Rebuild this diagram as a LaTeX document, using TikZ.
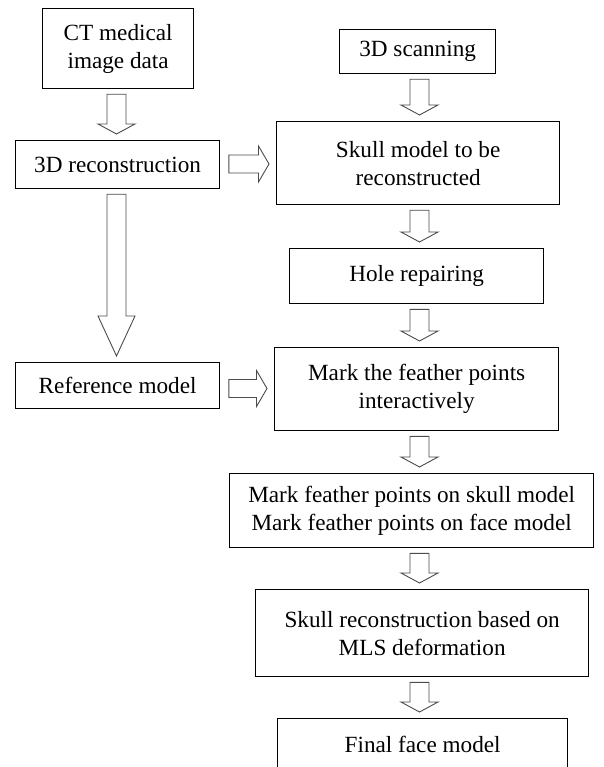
\documentclass[tikz,border=0pt]{standalone}
\usepackage{fontspec}
\setmainfont{Liberation Serif}
\usetikzlibrary{calc}
\tikzset{
  box/.style={draw=black, line width=1.3pt, inner sep=0pt, align=center, anchor=north west,
    font=\fontsize{23.2pt}{28pt}\selectfont},
  blockarrow/.style={draw=black!70, line width=0.9pt, fill=white, line join=miter},
}
% vertical block arrow: #1 x centre, #2 from node, #3 to node, #4 head length
\newcommand{\vblock}[4]{%
  \draw[blockarrow] let \p1=(#2.south), \p2=(#3.north) in
    (#1pt-9.5pt,\y1-5pt) -- (#1pt+9.5pt,\y1-5pt) -- (#1pt+9.5pt,\y2+6pt+#4pt)
    -- (#1pt+18.5pt,\y2+6pt+#4pt) -- (#1pt,\y2+6pt) -- (#1pt-18.5pt,\y2+6pt+#4pt)
    -- (#1pt-9.5pt,\y2+6pt+#4pt) -- cycle;}
% horizontal block arrow: #1 y centre (negative), #2 from node, #3 to node
\newcommand{\hblock}[3]{%
  \draw[blockarrow] let \p1=(#2.east), \p2=(#3.west) in
    (\x1+8.5pt,#1pt+9pt) -- (\x2-17.5pt,#1pt+9pt) -- (\x2-17.5pt,#1pt+18pt)
    -- (\x2-7pt,#1pt) -- (\x2-17.5pt,#1pt-18pt) -- (\x2-17.5pt,#1pt-9pt)
    -- (\x1+8.5pt,#1pt-9pt) -- cycle;}
\begin{document}
\begin{tikzpicture}[x=1pt,y=1pt]
\useasboundingbox[fill=white] (0,0) rectangle (603,-767);

\node[box, minimum width=151pt, minimum height=80pt] (ct) at (42,-8) {CT medical\\image data};
\node[box, minimum width=204pt, minimum height=48pt] (recon) at (15,-140) {3D reconstruction};
\node[box, minimum width=204pt, minimum height=46pt] (ref) at (15,-362) {Reference model};
\node[box, minimum width=156pt, minimum height=44pt] (scan) at (339,-29) {3D scanning};
\node[box, minimum width=283pt, minimum height=83pt] (skull) at (276,-121) {Skull model to be\\reconstructed};
\node[box, minimum width=254pt, minimum height=55pt] (hole) at (289,-248) {Hole repairing};
\node[box, minimum width=284pt, minimum height=83pt] (markint) at (274,-347) {Mark the feather points\\interactively};
\node[box, minimum width=364pt, minimum height=74pt] (markfp) at (229,-473) {Mark feather points on skull model\\Mark feather points on face model};
\node[box, minimum width=333pt, minimum height=87pt] (skrec) at (255,-589) {Skull reconstruction based on\\MLS deformation};
\node[box, minimum width=290pt, minimum height=58pt] (final) at (277,-718) {\raisebox{6pt}{Final face model}};

\vblock{116.5}{ct}{recon}{10}
\vblock{116.5}{recon}{ref}{40}
\vblock{419.5}{scan}{skull}{10}
\vblock{419.5}{skull}{hole}{10}
\vblock{419.5}{hole}{markint}{10}
\vblock{419.5}{markint}{markfp}{10}
\vblock{419.5}{markfp}{skrec}{10}
\vblock{419.5}{skrec}{final}{10}
\hblock{-164}{recon}{skull}
\hblock{-388.5}{ref}{markint}
\end{tikzpicture}
\end{document}
